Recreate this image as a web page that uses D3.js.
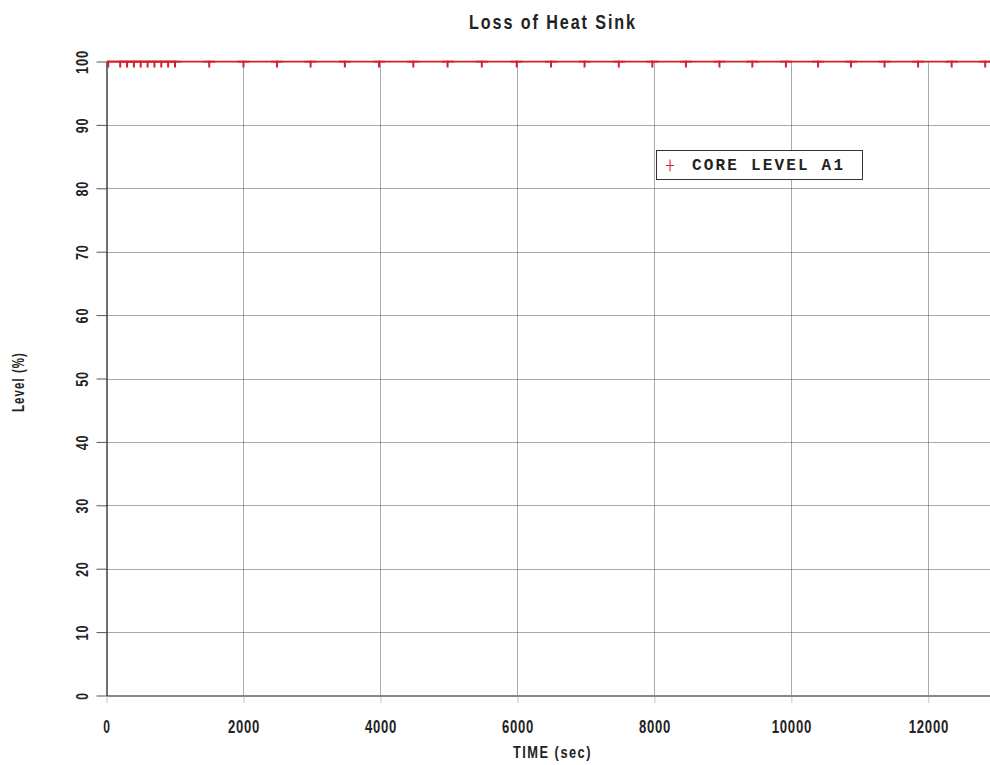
<!DOCTYPE html>
<html>
<head>
<meta charset="utf-8">
<script src="https://cdn.jsdelivr.net/npm/d3@7"></script>
<style>
  html, body { margin: 0; padding: 0; background: #fff; }
  svg { display: block; }
  .lbl { font-family: "Liberation Sans", Arial, Helvetica, sans-serif; font-weight: bold; fill: #222; }
</style>
</head>
<body>
<svg id="chart" width="990" height="765"></svg>
<script>
// ---- data ----
const title = "Loss of Heat Sink";
const xLabel = "TIME (sec)";
const yLabel = "Level (%)";
const seriesName = "CORE LEVEL A1";
const times = [25, 200, 300, 400, 500, 600, 700, 800, 900, 1000, 1500, 2000, 2490, 2980,
  3480, 3980, 4480, 4980, 5480, 5990, 6490, 6980, 7480, 7970, 8460, 8950, 9430, 9920,
  10390, 10870, 11360, 11850, 12340, 12830, 13320];
const levels = [100, 100, 100, 100, 100, 100, 100, 100, 100, 100, 100, 100, 100, 100,
  100, 100, 100, 100, 100, 100, 100, 100, 100, 100, 100, 100, 100, 100,
  100, 100, 100, 100, 100, 100, 100];
const xTicks = [0, 2000, 4000, 6000, 8000, 10000, 12000];
const yTicks = [0, 10, 20, 30, 40, 50, 60, 70, 80, 90, 100];
const xDomain = [0, 12900];
const yDomain = [0, 100];

(function () {
// ---- layout ----
const svg = d3.select("#chart");
const pLeft = 106.5, pRight = 990, pTop = 61.5, pBottom = 695.5;
const red = "#d0202a";
const digitW = s => String(s).length * 8.2 - 0.8;

const x = d3.scaleLinear().domain(xDomain).range([pLeft, pRight]);
const y = d3.scaleLinear().domain(yDomain).range([pBottom, pTop]);

// grid
const grid = svg.append("g");
grid.selectAll("line.gy").data(yTicks.filter(d => d > 0 && d < 100)).join("line")
  .attr("x1", pLeft).attr("x2", pRight)
  .attr("y1", d => Math.round(y(d)) + 0.5).attr("y2", d => Math.round(y(d)) + 0.5)
  .attr("stroke", "#555").attr("stroke-width", 1).attr("stroke-dasharray", "1,1");
grid.selectAll("line.gx").data(xTicks.filter(d => d > 0)).join("line")
  .attr("y1", pTop).attr("y2", pBottom)
  .attr("x1", d => Math.round(x(d)) + 0.5).attr("x2", d => Math.round(x(d)) + 0.5)
  .attr("stroke", "#555").attr("stroke-width", 1).attr("stroke-dasharray", "1,1");

// x axis
const xAxis = svg.append("g").attr("transform", `translate(0,${pBottom})`)
  .call(d3.axisBottom(x).tickValues(xTicks).tickSize(8).tickSizeOuter(0).tickFormat(d3.format("d")));
xAxis.select(".domain").attr("stroke", "#111").attr("stroke-width", 1.2);
xAxis.selectAll(".tick line").attr("stroke", "#888").attr("stroke-dasharray", "1,1");
xAxis.selectAll(".tick text").attr("class", "lbl").attr("y", 37).attr("dy", 0)
  .attr("fill", "#222")
  .style("font-size", "18px").style("letter-spacing", "1px")
  .attr("textLength", d => digitW(d)).attr("lengthAdjust", "spacingAndGlyphs");

// y axis
const yAxis = svg.append("g").attr("transform", `translate(${pLeft},0)`)
  .call(d3.axisLeft(y).tickValues(yTicks).tickSize(10).tickSizeOuter(0).tickFormat(d3.format("d")));
yAxis.select(".domain").attr("stroke", "#111").attr("stroke-width", 1.2);
yAxis.selectAll(".tick line").attr("stroke", "#555");
yAxis.selectAll(".tick text").attr("class", "lbl")
  .attr("x", 0).attr("y", 0).attr("dy", 0)
  .attr("fill", "#222")
  .attr("text-anchor", "middle")
  .attr("transform", "translate(-19,0) rotate(-90)")
  .style("font-size", "17px").style("letter-spacing", "1px")
  .attr("textLength", d => digitW(d)).attr("lengthAdjust", "spacingAndGlyphs");

// clip for data
svg.append("clipPath").attr("id", "plotclip").append("rect")
  .attr("x", pLeft).attr("y", pTop - 1).attr("width", pRight - pLeft).attr("height", pBottom - pTop + 1);

const pts = times.map((t, i) => ({ t: t, v: levels[i] }));
const plot = svg.append("g").attr("clip-path", "url(#plotclip)");
plot.append("path").datum(pts)
  .attr("fill", "none").attr("stroke", red).attr("stroke-width", 2.2)
  .attr("d", d3.line().x(d => x(d.t)).y(d => y(d.v)));
const ms = 6;
plot.selectAll("path.mk").data(pts).join("path")
  .attr("class", "mk")
  .attr("fill", "none").attr("stroke", red).attr("stroke-width", 2)
  .attr("d", d => {
    const cx = x(d.t), cy = y(d.v);
    return `M${cx - ms},${cy}H${cx + ms}M${cx},${cy - ms}V${cy + ms}`;
  });

// title & axis labels
svg.append("text").attr("class", "lbl")
  .attr("x", 553).attr("y", 29.3).attr("text-anchor", "middle")
  .style("font-size", "21px").style("letter-spacing", "2.5px")
  .attr("textLength", 168).attr("lengthAdjust", "spacingAndGlyphs")
  .text(title);
svg.append("text").attr("class", "lbl")
  .attr("x", 552.5).attr("y", 757.7).attr("text-anchor", "middle")
  .style("font-size", "17px").style("letter-spacing", "2px")
  .attr("textLength", 79).attr("lengthAdjust", "spacingAndGlyphs")
  .text(xLabel);
svg.append("text").attr("class", "lbl")
  .attr("transform", "translate(24,382) rotate(-90)").attr("text-anchor", "middle")
  .style("font-size", "16px").style("letter-spacing", "1.5px")
  .attr("textLength", 60).attr("lengthAdjust", "spacingAndGlyphs")
  .text(yLabel);

// legend
const lg = svg.append("g");
lg.append("rect").attr("x", 656.5).attr("y", 150.5).attr("width", 206).attr("height", 29)
  .attr("fill", "#fff").attr("stroke", "#333").attr("stroke-width", 1);
lg.append("path").attr("stroke", red).attr("stroke-width", 1).attr("fill", "none")
  .attr("d", "M666,165.5H674M670,159.5V171.5");
lg.append("text").attr("x", 692).attr("y", 169.5)
  .style("font-family", "'Courier New', 'Liberation Mono', 'DejaVu Sans Mono', monospace")
  .style("font-weight", "bold").style("font-size", "16px").style("fill", "#222")
  .attr("textLength", 151).attr("lengthAdjust", "spacing")
  .text(seriesName);
})();
</script>
</body>
</html>
